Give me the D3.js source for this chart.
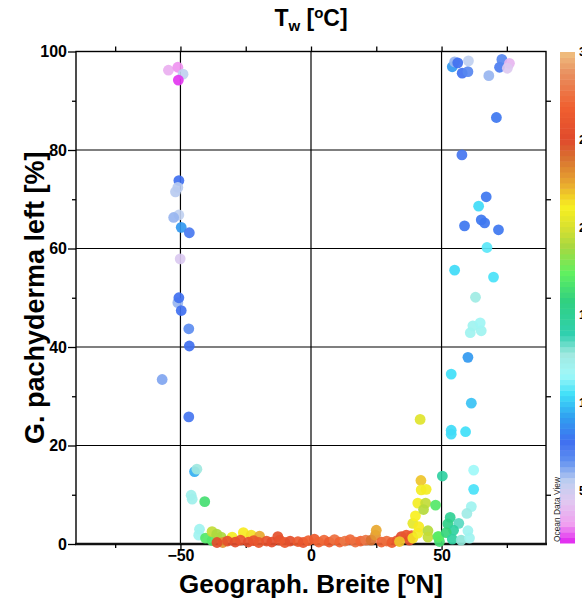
<!DOCTYPE html>
<html>
<head>
<meta charset="utf-8">
<script src="https://cdn.jsdelivr.net/npm/d3@7/dist/d3.min.js"></script>
<style>
body { margin: 0; background: #fff; }
#c { width: 582px; height: 600px; }
text { font-family: Arial, "Liberation Sans", sans-serif; }
</style>
</head>
<body>
<div id="c"></div>
<script>
"use strict";

// station latitude [°N]
const latitude = [
    -54.6, -51.0, -49.0, -50.8, -50.6, -51.0, -51.9, -50.6, -52.6, -49.7,
    -46.6, -50.1, -51.0, -50.6, -49.7, -46.8, -46.6, -57.0, -46.8, -44.6,
    -43.7, -45.9, -45.5, -40.7, -42.7, -43.0, -40.4, -37.9, -37.9, -36.1,
    -34.4, -33.8, -30.2, -25.9, -22.9, -19.7, -12.7,
    -36, -32, -29, -27, -24, -22, -20, -17, -15, -12,
    -10, -8, -5, -3, -1, 1.3, 3, 5, 7, 9,
    11, 13, 15, 17, 19, 21, 23, 24.7, 25, 27,
    29, 31, 33, 34.6, 36.5, 37.7, 38.5, 33.9,
    39.0, 39.0, 40.0, 40.9, 40.9, 41.3, 41.8, 42.1, 42.2, 44.1,
    43.9, 43.1, 44.8, 44.8, 47.7, 48.6, 49.2, 49.0,
    50.3, 53.3, 52.4, 56.6, 54.6, 51.8, 54.1, 57.5, 60.1, 60.7,
    61.4, 59.7, 62.3, 62.3, 53.7, 53.7, 59.2, 61.4, 53.7, 60.1,
    61.0, 65.2, 62.0, 64.8, 63.0, 69.9, 55.0, 67.4, 71.8, 58.8,
    66.5, 65.2, 64.2, 67.1, 57.8, 71.0, 68.1, 57.9, 60.1, 54.1,
    55.0, 56.2, 60.3, 72.2, 73.1, 76.0, 75.2
]
// G. pachyderma (left coiling) [%]
const pachyLeft = [
    96.2, 96.8, 95.4, 94.2, 73.8, 72.4, 71.5, 66.8, 66.3, 64.3,
    63.2, 57.9, 49.0, 50.0, 47.4, 43.7, 40.2, 33.4, 25.8, 14.7,
    15.2, 9.9, 9.1, 8.6, 3.0, 1.8, 1.2, 0.7, 2.5, 2.0,
    1.4, 0.3, 1.4, 2.3, 1.8, 1.6, 1.5,
    0.3, 0.6, 0.4, 0.8, 0.4, 0.7, 0.3, 0.6, 0.4, 0.8,
    0.3, 0.6, 0.5, 0.3, 0.7, 1.0, 0.4, 0.8, 0.4, 0.9,
    0.4, 0.6, 0.9, 0.4, 0.6, 0.8, 0.8, 1.8, 2.8, 0.4,
    0.6, 0.3, 0.7, 1.5, 1.8, 0.8, 1.7, 0.5,
    1.2, 4.2, 5.7, 8.3, 2.2, 3.5, 25.3, 12.9, 11.0, 11.1,
    8.3, 7.0, 2.7, 1.4, 7.9, 1.5, 0.5, 1.5,
    13.8, 5.4, 4.1, 4.2, 2.8, 2.3, 1.0, 0.8, 2.7, 1.2,
    7.6, 6.2, 15.0, 11.1, 23.1, 22.3, 22.8, 28.6, 34.5, 37.9,
    42.9, 43.3, 44.3, 44.9, 50.1, 54.2, 55.6, 60.2, 63.8, 64.6,
    65.2, 65.8, 68.6, 70.5, 79.0, 86.6, 95.1, 95.6, 95.9, 96.9,
    97.9, 97.7, 98.1, 96.8, 98.4, 97.6, 96.6
]
// water temperature Tw [°C]
const waterTemp = [
    3.6, 3.0, 5.5, 2.2, 7.8, 5.6, 5.6, 5.5, 6.0, 9.0,
    7.5, 4.6, 6.0, 7.8, 7.8, 6.8, 7.8, 6.3, 7.6, 9.5,
    12.8, 12.2, 12.2, 16.5, 12.0, 12.0, 17.0, 17.0, 19.5, 19.0,
    19.0, 23.0, 21.0, 21.3, 21.5, 22.5, 25.5,
    25.3, 25.6, 25.3, 25.8, 25.3, 25.8, 26.0, 25.8, 25.3, 25.8,
    26.2, 25.4, 26.4, 26.0, 26.8, 26.5, 27.0, 27.2, 26.5, 27.5,
    27.0, 27.8, 27.2, 27.5, 27.0, 27.8, 24.0, 23.0, 22.5, 27.0,
    27.5, 26.5, 26.0, 25.2, 26.0, 25.4, 26.2, 22.0,
    21.5, 20.5, 21.2, 21.0, 21.0, 21.3, 20.3, 22.0, 21.0, 21.0,
    19.5, 19.2, 19.2, 19.5, 17.0, 17.0, 16.5, 17.2,
    14.5, 15.0, 15.5, 13.5, 14.5, 16.0, 14.5, 13.0, 12.0, 12.0,
    12.0, 12.5, 11.6, 10.6, 10.4, 10.4, 10.5, 9.9, 10.5, 9.0,
    12.0, 12.0, 12.0, 11.8, 12.6, 10.6, 10.4, 10.8, 8.0, 8.0,
    8.0, 8.0, 10.4, 8.0, 7.6, 8.0, 6.0, 7.8, 7.0, 9.0,
    6.0, 7.8, 5.5, 7.4, 7.0, 3.8, 4.5
]

const xTicks = [-50, 0, 50]
const xMinorTicks = [-75, -25, 25, 75]
const yTicks = [0, 20, 40, 60, 80, 100]
const yMinorTicks = [10, 30, 50, 70, 90]
const tempTicks = [30, 25, 20, 15, 10, 5]

// ODV colour table, bottom to top
const tempStops = [2, 3.1, 4.4, 5.5, 6.7, 7.8, 9.2, 10.5, 11.6, 12.8, 13.9,
    15.8, 17.4, 18.9, 20.0, 21.2, 22.5, 24.0, 25.0, 26.9, 28.8, 30]
const tempColors = ['#e020f0', '#f0a0f0', '#e0c8f0', '#c0d0f0', '#6090f0',
    '#4070f0', '#30a0f0', '#40e0f8', '#a0f8f8', '#a0e8e0', '#30d0b0',
    '#30d080', '#60f060', '#a8d840', '#d8e030', '#f8f020', '#e8a830',
    '#d87030', '#e04a2c', '#f06030', '#e89060', '#f0c080']

let svg
let xScale, yScale, colorScale

window.onload = function() {
    createChart()
    drawPoints()
    drawColorBar()
}

function createChart() {
    const plot = {left: 76, right: 546, top: 51.5, bottom: 544}

    svg = d3.select('#c')
        .append('svg')
            .attr('width', 582)
            .attr('height', 600)

    xScale = d3.scaleLinear()
        .domain([-90, 90])
        .range([plot.left, plot.right])
    yScale = d3.scaleLinear()
        .domain([0, 100])
        .range([plot.bottom, plot.top])
    colorScale = d3.scaleLinear()
        .domain(tempStops)
        .range(tempColors)

    // grid
    let grid = svg.append('g')
    grid.selectAll('.gx')
        .data(xTicks)
        .enter()
        .append('line')
            .attr('x1', d => xScale(d)).attr('x2', d => xScale(d))
            .attr('y1', plot.top).attr('y2', plot.bottom)
            .attr('stroke', '#000').attr('stroke-width', 1.2)
    grid.selectAll('.gy')
        .data(yTicks.filter(d => d > 0 && d < 100))
        .enter()
        .append('line')
            .attr('x1', plot.left).attr('x2', plot.right)
            .attr('y1', d => yScale(d)).attr('y2', d => yScale(d))
            .attr('stroke', '#000').attr('stroke-width', 1.2)

    // frame
    svg.append('rect')
        .attr('x', plot.left).attr('y', plot.top)
        .attr('width', plot.right - plot.left)
        .attr('height', plot.bottom - plot.top)
        .attr('fill', 'none')
        .attr('stroke', '#000')
        .attr('stroke-width', 1.4)
    svg.append('line')
        .attr('x1', plot.left - 1).attr('x2', plot.right + 1)
        .attr('y1', plot.bottom).attr('y2', plot.bottom)
        .attr('stroke', '#111').attr('stroke-width', 2.4)

    // axes
    const styleAxis = g => {
        g.select('.domain').remove()
        g.selectAll('line').attr('stroke', '#000').attr('stroke-width', 1.3)
        g.selectAll('text')
            .style('font-size', '16px')
            .style('font-weight', 'bold')
            .attr('fill', '#000')
    }
    svg.append('g')
        .attr('transform', 'translate(' + plot.left + ',0)')
        .call(d3.axisLeft(yScale).tickValues(yTicks).tickSize(8).tickPadding(1))
        .call(styleAxis)
    svg.append('g')
        .attr('transform', 'translate(' + plot.left + ',0)')
        .call(d3.axisLeft(yScale).tickValues(yMinorTicks).tickSize(4).tickFormat(''))
        .call(styleAxis)
    svg.append('g')
        .attr('transform', 'translate(0,' + plot.bottom + ')')
        .call(d3.axisBottom(xScale).tickValues(xTicks).tickSize(6).tickPadding(0))
        .call(styleAxis)
    svg.append('g')
        .attr('transform', 'translate(0,' + plot.bottom + ')')
        .call(d3.axisBottom(xScale).tickValues(xMinorTicks).tickSize(4).tickFormat(''))
        .call(styleAxis)
    svg.append('g')
        .attr('transform', 'translate(0,' + plot.top + ')')
        .call(d3.axisTop(xScale).tickValues(xTicks.concat(xMinorTicks)).tickSize(5).tickFormat(''))
        .call(styleAxis)
    svg.append('g')
        .attr('transform', 'translate(' + plot.right + ',0)')
        .call(d3.axisRight(yScale).tickValues(yMinorTicks).tickSize(5).tickFormat(''))
        .call(styleAxis)

    // titles
    let title = svg.append('text')
        .attr('x', (plot.left + plot.right) / 2)
        .attr('y', 26)
        .attr('text-anchor', 'middle')
        .style('font-size', '23px')
        .style('font-weight', 'bold')
    title.append('tspan').text('T')
    title.append('tspan').attr('dy', 5).style('font-size', '15px').text('w')
    title.append('tspan').attr('dy', -5).text(' [')
    title.append('tspan').attr('dy', -8).style('font-size', '15px').text('o')
    title.append('tspan').attr('dy', 8).text('C]')

    let xLabel = svg.append('text')
        .attr('x', (plot.left + plot.right) / 2)
        .attr('y', 593)
        .attr('text-anchor', 'middle')
        .style('font-size', '26px')
        .style('font-weight', 'bold')
    xLabel.append('tspan').text('Geograph. Breite [')
    xLabel.append('tspan').attr('dy', -9).style('font-size', '16px').text('o')
    xLabel.append('tspan').attr('dy', 9).text('N]')

    svg.append('text')
        .attr('transform', 'translate(44,' + (plot.top + plot.bottom) / 2 + ') rotate(-90)')
        .attr('text-anchor', 'middle')
        .style('font-size', '27px')
        .style('font-weight', 'bold')
        .text('G. pachyderma left [%]')
}

function drawPoints() {
    let idx = d3.range(latitude.length)
    svg.append('g')
        .selectAll('circle')
        .data(idx)
        .enter()
        .append('circle')
            .attr('cx', i => xScale(latitude[i]))
            .attr('cy', i => yScale(pachyLeft[i]))
            .attr('r', 5.4)
            .attr('fill', i => colorScale(waterTemp[i]))
            .attr('fill-opacity', 0.92)
}

function drawColorBar() {
    const bar = {x: 560, width: 15, top: 52, bottom: 543}
    let cScale = d3.scaleLinear()
        .domain([tempStops[0], tempStops[tempStops.length - 1]])
        .range([bar.bottom, bar.top])

    let g = svg.append('g')
    let n = 90
    let step = (cScale.domain()[1] - cScale.domain()[0]) / n
    g.selectAll('rect')
        .data(d3.range(n))
        .enter()
        .append('rect')
            .attr('x', bar.x)
            .attr('width', bar.width)
            .attr('y', i => cScale(tempStops[0] + (i + 1) * step))
            .attr('height', i => cScale(tempStops[0] + i * step) - cScale(tempStops[0] + (i + 1) * step) + 0.5)
            .attr('fill', i => colorScale(tempStops[0] + (i + 0.5) * step))

    // labels run past the page edge, as in the original export
    g.selectAll('.lbl')
        .data(tempTicks)
        .enter()
        .append('text')
            .attr('x', 579)
            .attr('y', d => cScale(d))
            .attr('dy', '0.35em')
            .style('font-size', '12px')
            .style('font-weight', 'bold')
            .text(d => d)

    svg.append('text')
        .attr('transform', 'translate(560,542) rotate(-90)')
        .style('font-size', '8.4px')
        .attr('fill', '#222')
        .text('Ocean Data View')
}
</script>
</body>
</html>
